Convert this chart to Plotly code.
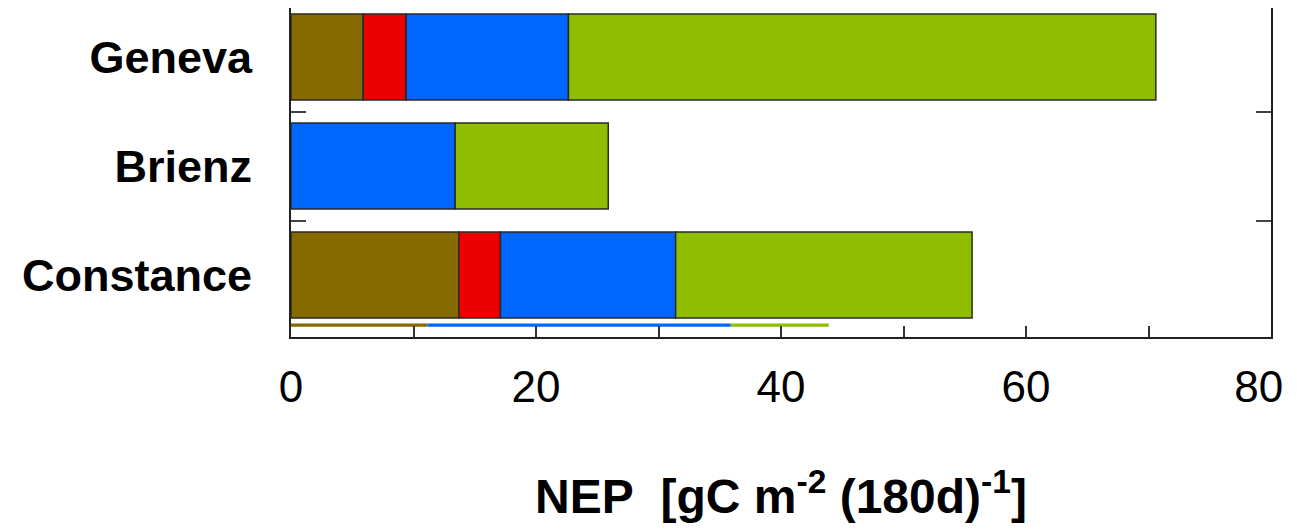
import plotly.graph_objects as go

# ---- data ----
lakes = ["Constance", "Brienz", "Geneva"]
lake_pos = [0, 1, 2]
seg_names = ["brown", "red", "blue", "green"]
brown = [13.7, 0.0, 5.9]
red = [3.4, 0.0, 3.5]
blue = [14.3, 13.4, 13.25]
green = [24.2, 12.5, 47.95]
# partially visible strip beneath the Constance bar
strip_pos = [-0.46]
strip_brown = [11.15]
strip_blue = [24.75]
strip_green = [8.0]

x_ticks = [0, 20, 40, 60, 80]

colors = {"brown": "#856A00", "red": "#EE0000", "blue": "#0066FF", "green": "#8FBE00"}

fig = go.Figure()
series = {"brown": brown, "red": red, "blue": blue, "green": green}
base = [0.0, 0.0, 0.0]
for name in seg_names:
    vals = series[name]
    fig.add_trace(go.Bar(
        y=lake_pos, x=vals, base=base[:], orientation="h", width=0.79,
        marker=dict(color=colors[name], line=dict(color="#2a2a2a", width=1.5)),
        name=name, showlegend=False, hoverinfo="x+name"))
    base = [b + v for b, v in zip(base, vals)]

sbase = [0.0]
for name, vals in [("brown", strip_brown), ("blue", strip_blue), ("green", strip_green)]:
    fig.add_trace(go.Bar(
        y=strip_pos, x=vals, base=sbase[:], orientation="h", width=0.03,
        marker=dict(color=colors[name], line=dict(width=0)),
        name=name, showlegend=False, hoverinfo="x+name"))
    sbase = [b + v for b, v in zip(sbase, vals)]

# last label nudged left (as in the reference) so it stays inside the frame
x_ticktext = [str(v) for v in x_ticks]
x_ticktext[-1] = x_ticktext[-1] + "\u00a0\u00a0"

fig.update_layout(
    width=1289, height=515,
    margin=dict(l=283, r=26, t=0, b=186),
    plot_bgcolor="white", paper_bgcolor="white",
    barmode="overlay",
    font=dict(family="Liberation Sans, Arial, sans-serif", color="black"),
    xaxis=dict(
        range=[0, 80], tickvals=x_ticks, ticktext=x_ticktext,
        ticks="inside", ticklen=11, tickwidth=1.5, tickcolor="#333",
        minor=dict(dtick=10, ticks="inside", ticklen=11, tickwidth=1.5, tickcolor="#333"),
        showline=True, linecolor="#222", linewidth=2,
        showgrid=False, zeroline=False, automargin=False,
        tickfont=dict(size=44), ticklabelstandoff=10, ticklabeloverflow="allow",
        title=dict(text="<b>NEP\u00a0\u00a0[gC m<sup>-2</sup> (180d)<sup>-1</sup>]</b>",
                   font=dict(size=48), standoff=70),
    ),
    yaxis=dict(
        range=[-0.569, 2.45], tickvals=lake_pos, ticktext=["<b>%s</b>" % s for s in lakes],
        ticks="", showline=True, linecolor="#222", linewidth=2, mirror="ticks",
        minor=dict(tickvals=[0.5, 1.5], ticks="inside", ticklen=15, tickwidth=1.5, tickcolor="#444"),
        showgrid=False, zeroline=False, automargin=False,
        tickfont=dict(size=45), ticklabelstandoff=28,
    ),
)

fig.write_html("out.html")
